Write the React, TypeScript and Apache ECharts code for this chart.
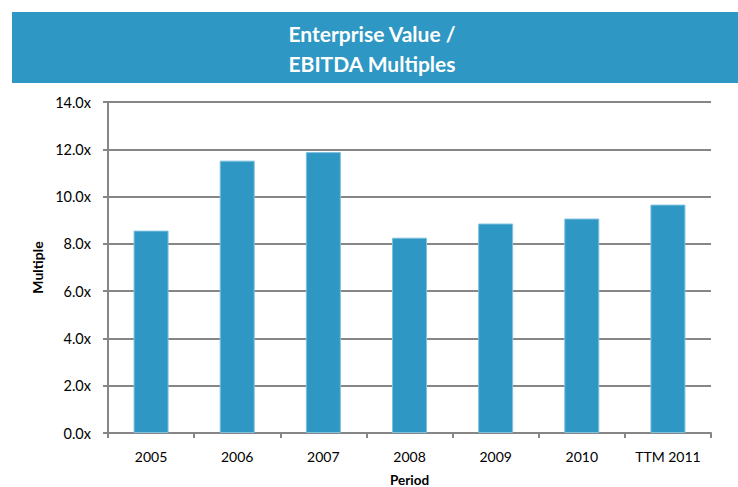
import React, { useEffect, useRef } from "react";
import * as echarts from "echarts";

const categories = ["2005", "2006", "2007", "2008", "2009", "2010", "TTM 2011"];
const multiples = [8.56, 11.52, 11.88, 8.26, 8.86, 9.07, 9.66];
const titleLines = ["Enterprise Value /", "EBITDA Multiples"];
const yAxisName = "Multiple";
const xAxisName = "Period";

export default function App() {
  const ref = useRef<HTMLDivElement>(null);
  useEffect(() => {
    if (!ref.current) return;
    const chart = echarts.init(ref.current, null, { renderer: "svg" });
    const font = "Lato, 'Open Sans', sans-serif";
    chart.setOption({
      animation: false,
      textStyle: { fontFamily: font },
      graphic: [
        {
          type: "rect",
          shape: { x: 12, y: 12, width: 726, height: 71 },
          style: { fill: "#2E97C3" },
          silent: true,
        },
        {
          type: "text",
          x: 372,
          y: 48,
          style: {
            text: titleLines.join("\n"),
            fill: "#ffffff",
            font: `bold 21px ${font}`,
            lineHeight: 30,
            align: "center",
            verticalAlign: "middle",
          },
        },
      ],
      grid: { left: 108, right: 27, top: 102, bottom: 54, containLabel: false, outerBoundsMode: "none" },
      xAxis: {
        type: "category",
        data: categories,
        boundaryGap: true,
        name: xAxisName,
        nameLocation: "middle",
        nameGap: 40,
        nameTextStyle: { fontWeight: "bold", fontSize: 13.5, color: "#000", fontFamily: font },
        axisLine: { lineStyle: { color: "#868686", width: 2 } },
        axisTick: { show: true, interval: 0, length: 5, lineStyle: { color: "#868686", width: 2 }, alignWithLabel: false },
        axisLabel: { color: "#000", fontSize: 14, margin: 16, interval: 0, fontFamily: font },
      },
      yAxis: {
        type: "value",
        min: 0,
        max: 14,
        interval: 2,
        name: yAxisName,
        nameLocation: "middle",
        nameGap: 58,
        nameRotate: 90,
        nameTextStyle: { fontWeight: "bold", fontSize: 14, color: "#000", fontFamily: font },
        axisLine: { show: true, lineStyle: { color: "#868686", width: 2 } },
        axisTick: { show: true, length: 5, lineStyle: { color: "#868686", width: 2 } },
        axisLabel: {
          color: "#000",
          fontSize: 14.5,
          margin: 17,
          fontFamily: font,
          formatter: (v: number) => v.toFixed(1) + "x",
        },
        splitLine: { show: true, lineStyle: { color: "#868686", width: 2 } },
      },
      series: [
        {
          type: "bar",
          data: multiples,
          barWidth: 35,
          itemStyle: { color: "#2E97C3", borderColor: "#7FC0DE", borderWidth: 1 },
        },
      ],
    });
    return () => chart.dispose();
  }, []);
  return <div ref={ref} style={{ width: 738, height: 487, position: "absolute", left: 0, top: 0 }} />;
}
